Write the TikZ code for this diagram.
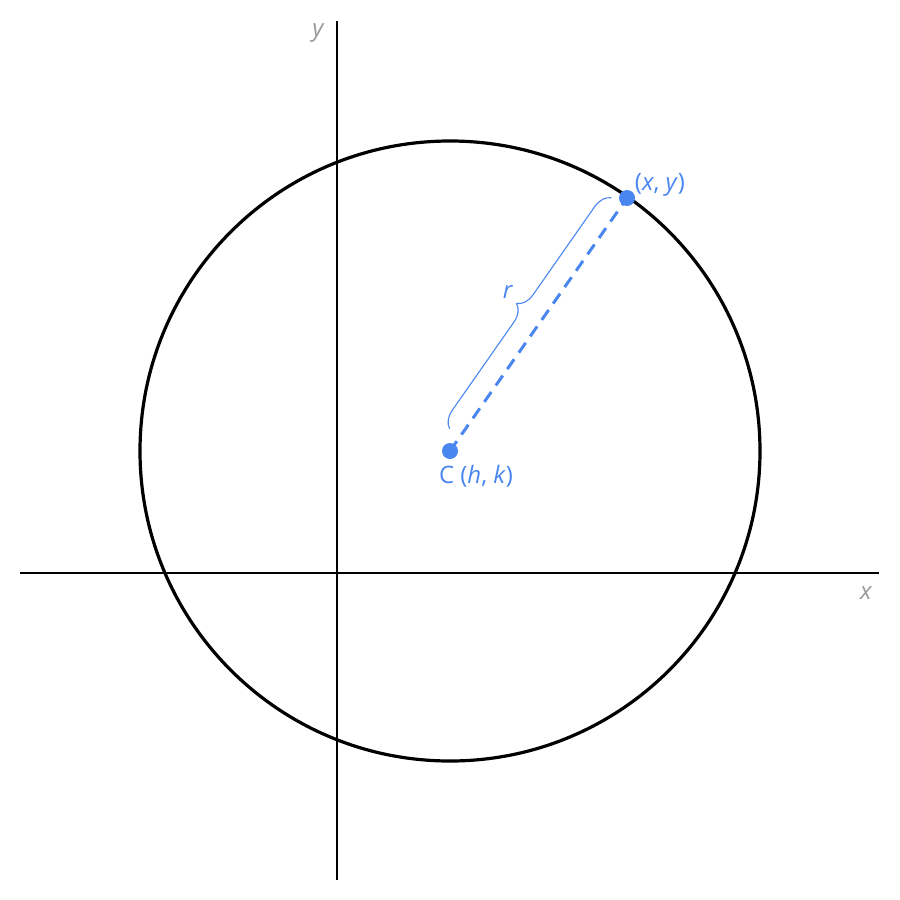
\documentclass[tikz,border=0pt]{standalone}
\usepackage{fontspec}
\setmainfont{Open Sans}
\usetikzlibrary{decorations.pathreplacing,calc}
\definecolor{ptblue}{HTML}{4A86F0}
\definecolor{axgray}{HTML}{999999}
\begin{document}
\begin{tikzpicture}[x=1pt,y=-1pt,
  axisline/.style={line width=1.6pt,black},
  circ/.style={line width=3.2pt,black},
  dot/.style={circle,fill=ptblue,inner sep=0pt,minimum size=16pt},
  lbl/.style={text=ptblue,font=\fontsize{24}{28}\selectfont},
  axlbl/.style={text=axgray,font=\fontsize{24}{28}\selectfont\itshape}]
\useasboundingbox[fill=white] (0,0) rectangle (900,900);
\coordinate (ytop) at (337,21);
\coordinate (ybot) at (337,880);
\coordinate (xl) at (20,573);
\coordinate (xr) at (879,573);
\draw[axisline] (ytop) -- (ybot);
\draw[axisline] (xl) -- (xr);
\node[axlbl] (ylab) at (318,33) {y};
\node[axlbl] (xlab) at (866,593) {x};
\coordinate (ctr) at (450,451);
\draw[circ] (ctr) circle (310);
\coordinate (pt) at (627,198);
\draw[ptblue,line width=3pt,dash pattern=on 12pt off 8pt] (ctr) -- (pt);
\node[dot] (cdot) at (ctr) {};
\node[dot] (pdot) at (pt) {};
\draw[ptblue,line width=1.1pt,decorate,decoration={brace,amplitude=17pt,raise=13pt}]
  ($(ctr)!18pt!(pt)$) -- ($(ctr)!300pt!(pt)$);
\node[lbl] (plab) at (660,185) {(\textit{x}, \textit{y})};
\node[lbl] (clab) at (476,476) {C (\textit{h}, \textit{k})};
\node[lbl] (rlab) at (508,292) {\textit{r}};
\end{tikzpicture}
\end{document}
